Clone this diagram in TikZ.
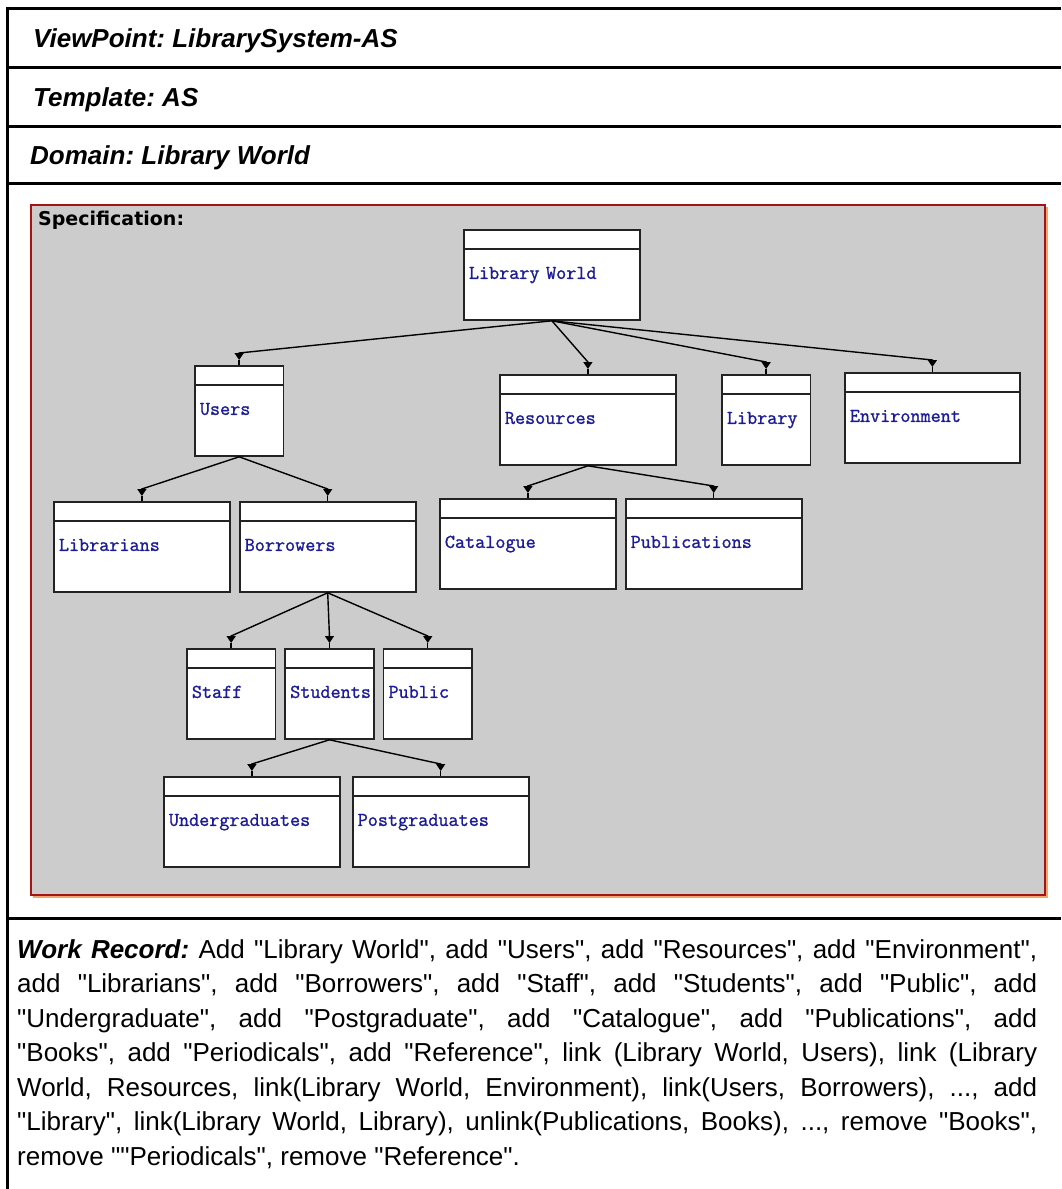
\documentclass[tikz,border=0pt]{standalone}
\usepackage{fontspec}
\setmainfont{Liberation Sans}[Ligatures=TeXOff]
\newfontfamily\specfont{DejaVu Sans}
\newfontfamily\boxfont{Latin Modern Mono}[FakeBold=1.2]
\usepackage{xcolor}
\usepackage{tikz}
\usetikzlibrary{arrows.meta, positioning}
\definecolor{boxtext}{RGB}{28,28,150}
\definecolor{boxline}{RGB}{35,35,35}
\definecolor{specgray}{RGB}{204,204,204}
\definecolor{specred}{RGB}{165,20,20}
\definecolor{specshade}{RGB}{240,165,110}
\tikzset{
  rule/.style={line width=3pt, black},
  specarea/.style={draw=specred, line width=1.5pt, fill=specgray},
  box/.style={rectangle, draw=boxline, line width=1.8pt, fill=white, anchor=north west, inner xsep=5pt, inner ysep=0pt, text height=49pt, text depth=41pt, align=left, text=boxtext, font=\fontsize{19.6}{22}\boxfont,
    path picture={\draw[boxline, line width=1.8pt] ([yshift=-19pt]path picture bounding box.north west) -- ([yshift=-19pt]path picture bounding box.north east);}},
  wide/.style={box, text width=166pt},
  narrow/.style={box, text width=78.5pt},
  link/.style={line width=1.4pt, -{Triangle[length=7pt,width=9pt]}},
  stem/.style={line width=1.4pt, -},
  heading/.style={anchor=base west, inner sep=0pt, font=\fontsize{26}{30}\selectfont\bfseries\itshape}
}
\begin{document}
\frenchspacing
\begin{tikzpicture}[x=1pt, y=-1pt, node distance=8pt]
\useasboundingbox[fill=white] (0,0) rectangle (1061,1189);

% Frame and header rows
\draw[rule] (7,8) -- (1061,8);
\draw[rule] (7,67) -- (1061,67);
\draw[rule] (7,126) -- (1061,126);
\draw[rule] (7,183) -- (1061,183);
\draw[rule] (7,918) -- (1061,918);
\draw[rule] (7,6.5) -- (7,1189);

\node[heading] (vp) at (33,47) {ViewPoint: LibrarySystem-AS};
\node[heading] (tpl) at (33,106) {Template: AS};
\node[heading] (dom) at (30,164) {Domain: Library World};

% Specification area
\draw[specshade, line width=1.2pt] (33,897) -- (1047,897) -- (1047,207);
\draw[specarea] (31,205) rectangle (1045,895);
\node[anchor=base west, inner sep=0pt, font=\fontsize{19}{21}\specfont\bfseries] (spec) at (38,225) {Specification:};

% Top level
\node[wide] (lw) at (463,229) {Library World};
\node[narrow] (users) at (194,365) {Users};
\node[wide] (res) at (499,374) {Resources};
\node[narrow] (lib) at (721,374) {Library};
\node[wide, text width=165pt] (env) at (844,372) {Environment};

% Users and Resources
\node[wide] (libr) at (53,501) {Librarians};
\node[wide, right=of libr] (borr) {Borrowers};
\node[wide] (cat) at (439,498) {Catalogue};
\node[wide, right=of cat] (pub) {Publications};

% Borrowers
\node[narrow] (staff) at (186,648) {Staff};
\node[narrow, right=of staff] (stud) {Students};
\node[narrow, right=of stud] (public) {Public};

% Students
\node[wide] (ugrad) at (163,776) {Undergraduates};
\node[wide, right=11pt of ugrad] (pgrad) {Postgraduates};

\draw[link] (lw.south) -- ([yshift=12pt]users.north) -- ([yshift=5pt]users.north) edge[stem] (users.north);
\draw[link] (lw.south) -- ([yshift=12pt]res.north) -- ([yshift=5pt]res.north) edge[stem] (res.north);
\draw[link] (lw.south) -- ([yshift=12pt]lib.north) -- ([yshift=5pt]lib.north) edge[stem] (lib.north);
\draw[link] (lw.south) -- ([yshift=12pt]env.north) -- ([yshift=5pt]env.north) edge[stem] (env.north);

\draw[link] (users.south) -- ([yshift=12pt]libr.north) -- ([yshift=5pt]libr.north) edge[stem] (libr.north);
\draw[link] (users.south) -- ([yshift=12pt]borr.north) -- ([yshift=5pt]borr.north) edge[stem] (borr.north);
\draw[link] (res.south) -- ([yshift=12pt]cat.north) -- ([yshift=5pt]cat.north) edge[stem] (cat.north);
\draw[link] (res.south) -- ([yshift=12pt]pub.north) -- ([yshift=5pt]pub.north) edge[stem] (pub.north);

\draw[link] (borr.south) -- ([yshift=12pt]staff.north) -- ([yshift=5pt]staff.north) edge[stem] (staff.north);
\draw[link] (borr.south) -- ([yshift=12pt]stud.north) -- ([yshift=5pt]stud.north) edge[stem] (stud.north);
\draw[link] (borr.south) -- ([yshift=12pt]public.north) -- ([yshift=5pt]public.north) edge[stem] (public.north);

\draw[link] (stud.south) -- ([yshift=12pt]ugrad.north) -- ([yshift=5pt]ugrad.north) edge[stem] (ugrad.north);
\draw[link] (stud.south) -- ([yshift=12pt]pgrad.north) -- ([yshift=5pt]pgrad.north) edge[stem] (pgrad.north);

% Work record
\node[anchor=north west, inner sep=0pt, text width=1020pt, align=justify, font=\fontsize{26}{34.5}\selectfont] (work) at (17,939) {\hyphenpenalty=10000\exhyphenpenalty=10000
\textbf{\textit{Work Record:}} Add "Library World", add "Users", add "Resources", add "Environment",\linebreak
add "Librarians", add "Borrowers", add "Staff", add "Students", add "Public", add\linebreak
"Undergraduate", add "Postgraduate", add "Catalogue", add "Publications", add\linebreak
"Books", add "Periodicals", add "Reference", link (Library World, Users), link (Library\linebreak
World, Resources, link(Library World, Environment), link(Users, Borrowers), ..., add\linebreak
"Library", link(Library World, Library), unlink(Publications, Books), ..., remove "Books",\linebreak
remove ""Periodicals", remove "Reference".};
\end{tikzpicture}
\end{document}
